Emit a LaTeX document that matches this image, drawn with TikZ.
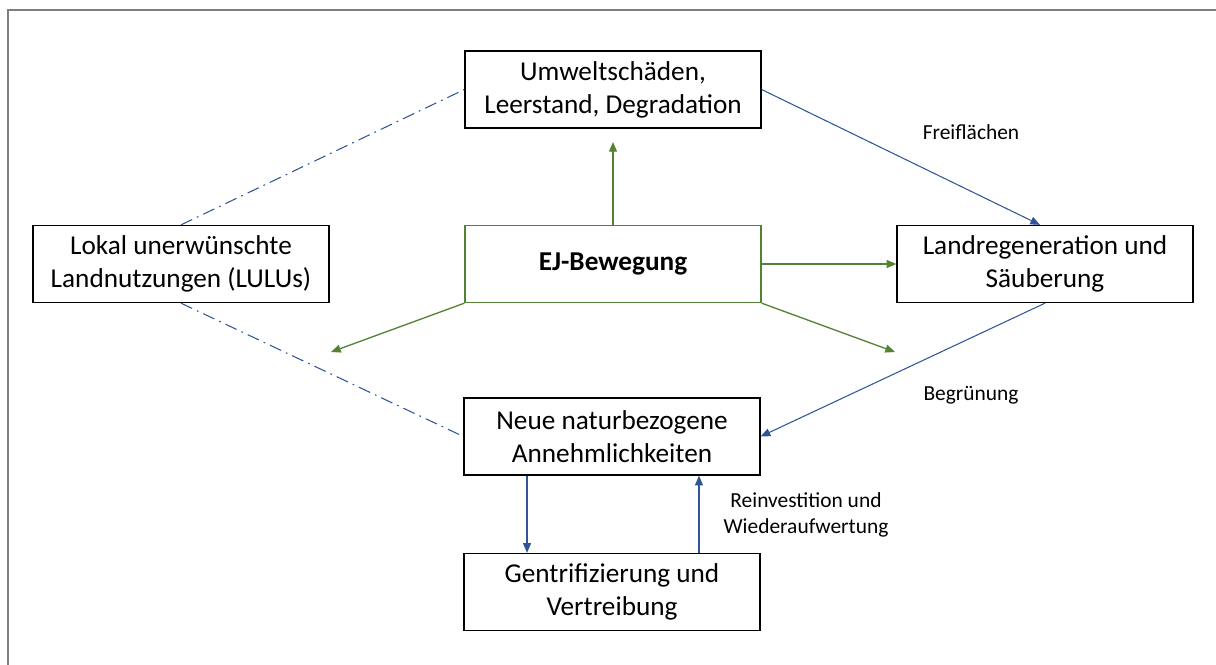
\documentclass[tikz,border=0pt]{standalone}
\usepackage{fontspec}
\setmainfont{Carlito}
\usetikzlibrary{arrows.meta,positioning}
\definecolor{linkblue}{RGB}{47,85,151}
\definecolor{ejgreen}{RGB}{84,130,53}
\definecolor{framegray}{RGB}{127,127,127}
\begin{document}
\begin{tikzpicture}[x=0.02cm, y=-0.02cm,
  box/.style={draw=black, line width=0.75pt, fill=white, minimum width=5.92cm, minimum height=1.54cm, align=center, inner sep=2pt, font=\fontsize{15.5}{18.9}\selectfont},
  lbl/.style={align=center, font=\fontsize{12.2}{14.9}\selectfont},
  flow/.style={draw=linkblue, line width=0.6pt, -{Triangle[length=5.5pt,width=4.5pt]}},
  push/.style={draw=ejgreen, line width=0.75pt, -{Triangle[length=5.5pt,width=4.5pt]}},
  link/.style={draw=linkblue, line width=0.6pt, dash pattern=on 7pt off 3pt on 1pt off 3pt}]
\useasboundingbox (0,0) rectangle (1216,664);
\draw[framegray, line width=0.9pt] (8,700) -- (8,10) -- (1250,10);
\node[box] (harm) at (613,89.5) {Umweltschäden,\\Leerstand, Degradation};
\node[box] (lulu) at (181,264) {Lokal unerwünschte\\Landnutzungen (LULUs)};
\node[box, draw=ejgreen, font=\fontsize{15.5}{18.9}\selectfont\bfseries] (ej) at (613,264) {EJ-Bewegung};
\node[box] (regen) at (1045,264) {Landregeneration und\\Säuberung};
\node[box] (amen) at (612,436.5) {Neue naturbezogene\\Annehmlichkeiten};
\node[box] (gentri) at (612,592) {Gentrifizierung und\\Vertreibung};
% free ends of the green arrows
\coordinate (upEnd) at (613,142);
\coordinate (swEnd) at (331,352);
\coordinate (seEnd) at (895,352);
% dash-dotted links
\draw[link] (lulu.north) -- (harm.west);
\draw[link] (lulu.south) -- (amen.west);
% blue flows
\draw[flow] (harm.east) -- ([xshift=-0.1cm]regen.north);
\draw[flow] (regen.south) -- (amen.east);
\draw[flow] ([xshift=-1.7cm]amen.south) -- ([xshift=-1.7cm]gentri.north);
\draw[flow] ([xshift=1.74cm]gentri.north) -- ([xshift=1.74cm]amen.south);
\node[lbl] (freiLbl) at (971,132) {Freiflächen};
\node[lbl] (gruenLbl) at (971,395) {Begrünung};
\node[lbl] (reinvLbl) at (806,515) {Reinvestition und\\Wiederaufwertung};
% green pushes from the movement
\draw[push] (ej.north) -- (upEnd);
\draw[push] (ej.east) -- (regen.west);
\draw[push] (ej.south west) -- (swEnd);
\draw[push] (ej.south east) -- (seEnd);
\end{tikzpicture}
\end{document}
